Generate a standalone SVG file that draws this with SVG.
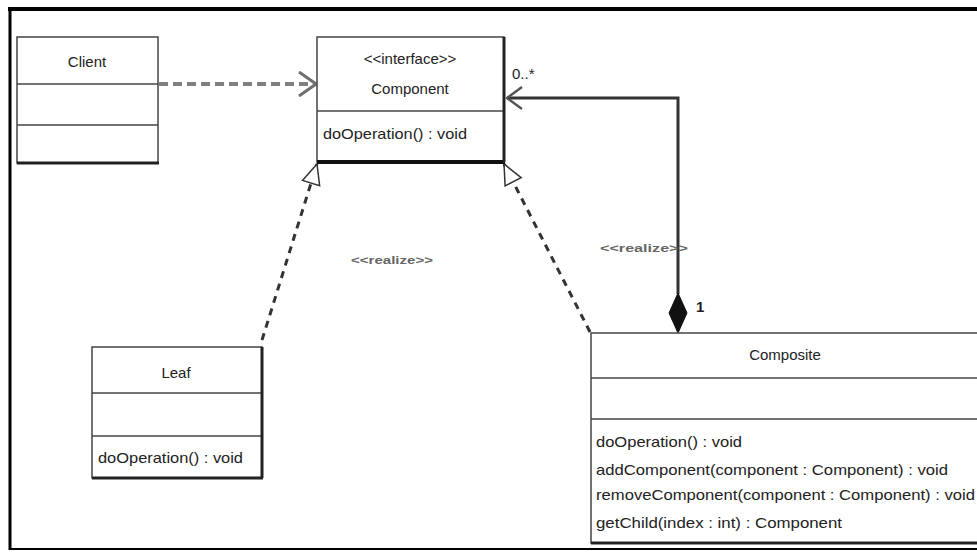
<svg xmlns="http://www.w3.org/2000/svg" width="977" height="552" viewBox="0 0 977 552">
<style>
  .box{fill:#fff;stroke:#444;stroke-width:1.5}
  .div{stroke:#444;stroke-width:1.5}
  .shadow{stroke:#222;stroke-width:3}
  .t{font-family:"Liberation Sans",Arial,sans-serif;font-size:15px;fill:#222}
  .c{text-anchor:middle}
  .lbl{font-family:"Liberation Sans",Arial,sans-serif;font-size:11px;font-weight:bold;fill:#666;text-anchor:middle}
  .dep{fill:none;stroke:#808080;stroke-width:4;stroke-dasharray:9 5}
  .real{fill:none;stroke:#333;stroke-width:3;stroke-dasharray:7 6}
  .assoc{fill:none;stroke:#333;stroke-width:3}
</style>
<defs>
  <marker id="open" viewBox="0 0 20 26" refX="19" refY="13" markerWidth="20" markerHeight="26" markerUnits="userSpaceOnUse" orient="auto">
    <path d="M2,1 L19,13 L2,25" fill="none" stroke="#707070" stroke-width="3"/>
  </marker>
  <marker id="open2" viewBox="0 0 20 26" refX="19" refY="13" markerWidth="20" markerHeight="26" markerUnits="userSpaceOnUse" orient="auto">
    <path d="M4,2 L19,13 L4,24" fill="none" stroke="#555" stroke-width="2.5"/>
  </marker>
  <marker id="tri" viewBox="0 0 22 22" refX="21" refY="11" markerWidth="22" markerHeight="22" markerUnits="userSpaceOnUse" orient="auto">
    <path d="M1,2 L21,11 L1,20 Z" fill="#fff" stroke="#333" stroke-width="1.5"/>
  </marker>
  <marker id="diamond" viewBox="0 0 42 22" refX="1" refY="11" markerWidth="42" markerHeight="22" markerUnits="userSpaceOnUse" orient="auto">
    <path d="M1,11 L21,2 L41,11 L21,20 Z" fill="#111" stroke="#111" stroke-width="1"/>
  </marker>
</defs>
<rect width="977" height="552" fill="#fff"/>
<g id="frame">
  <line x1="8" y1="9" x2="977" y2="9" stroke="#000" stroke-width="4"/>
  <line x1="10" y1="7" x2="10" y2="550" stroke="#000" stroke-width="3"/>
  <line x1="9" y1="549" x2="977" y2="549" stroke="#000" stroke-width="2"/>
</g>
<g id="connectors">
  <line class="dep" x1="159" y1="84" x2="316" y2="84" marker-end="url(#open)"/>
  <line class="real" x1="262" y1="340" x2="317" y2="164" marker-end="url(#tri)"/>
  <line class="real" x1="590" y1="332" x2="504" y2="164" marker-end="url(#tri)"/>
  <path class="assoc" d="M678,294 L678,98 L507,98" marker-end="url(#open2)"/>
  <line x1="678" y1="293" x2="678" y2="333" stroke="none" marker-start="url(#diamond)"/>
  <text class="lbl" x="392" y="264" textLength="82" lengthAdjust="spacingAndGlyphs">&lt;&lt;realize&gt;&gt;</text>
  <text class="lbl" x="644" y="252" textLength="88" lengthAdjust="spacingAndGlyphs">&lt;&lt;realize&gt;&gt;</text>
  <text class="t" x="512" y="79" font-size="13">0..*</text>
  <text class="t" x="696" y="312" font-weight="bold" font-size="13">1</text>
</g>
<g id="client">
  <rect class="box" x="17" y="37" width="141" height="126"/>
  <line class="div" x1="17" y1="84" x2="158" y2="84"/>
  <line class="div" x1="17" y1="125" x2="158" y2="125"/>
  <line class="shadow" x1="17" y1="163" x2="159" y2="163"/>
  <text class="t c" x="87" y="67">Client</text>
</g>
<g id="component">
  <rect class="box" x="317" y="37" width="187" height="125"/>
  <line class="div" x1="317" y1="111" x2="504" y2="111"/>
  <line x1="317" y1="162" x2="505" y2="162" stroke="#111" stroke-width="4"/>
  <line class="shadow" x1="504" y1="37" x2="504" y2="162" stroke-width="2.5"/>
  <text class="t c" x="410" y="64" font-size="13">&lt;&lt;interface&gt;&gt;</text>
  <text class="t c" x="410" y="94">Component</text>
  <text class="t" x="323" y="139" textLength="144" lengthAdjust="spacingAndGlyphs">doOperation() : void</text>
</g>
<g id="leaf">
  <rect class="box" x="92" y="347" width="170" height="131"/>
  <line class="div" x1="92" y1="393" x2="262" y2="393" stroke-width="2"/>
  <line class="div" x1="92" y1="436" x2="262" y2="436" stroke-width="2"/>
  <line class="shadow" x1="92" y1="478" x2="263" y2="478"/>
  <line class="shadow" x1="262" y1="347" x2="262" y2="478" stroke-width="2.5"/>
  <text class="t c" x="176" y="378">Leaf</text>
  <text class="t" x="98" y="463" textLength="145" lengthAdjust="spacingAndGlyphs">doOperation() : void</text>
</g>
<g id="composite">
  <rect class="box" x="591" y="333" width="400" height="210"/>
  <line class="div" x1="591" y1="378" x2="977" y2="378" stroke-width="2"/>
  <line class="div" x1="591" y1="419" x2="977" y2="419" stroke-width="2"/>
  <line class="shadow" x1="591" y1="543" x2="977" y2="543" stroke-width="2"/>
  <text class="t c" x="785" y="360">Composite</text>
  <text class="t" x="596" y="447" textLength="146" lengthAdjust="spacingAndGlyphs">doOperation() : void</text>
  <text class="t" x="596" y="475" textLength="352" lengthAdjust="spacingAndGlyphs">addComponent(component : Component) : void</text>
  <text class="t" x="596" y="500" textLength="379" lengthAdjust="spacingAndGlyphs">removeComponent(component : Component) : void</text>
  <text class="t" x="596" y="528" textLength="246" lengthAdjust="spacingAndGlyphs">getChild(index : int) : Component</text>
</g>
</svg>
